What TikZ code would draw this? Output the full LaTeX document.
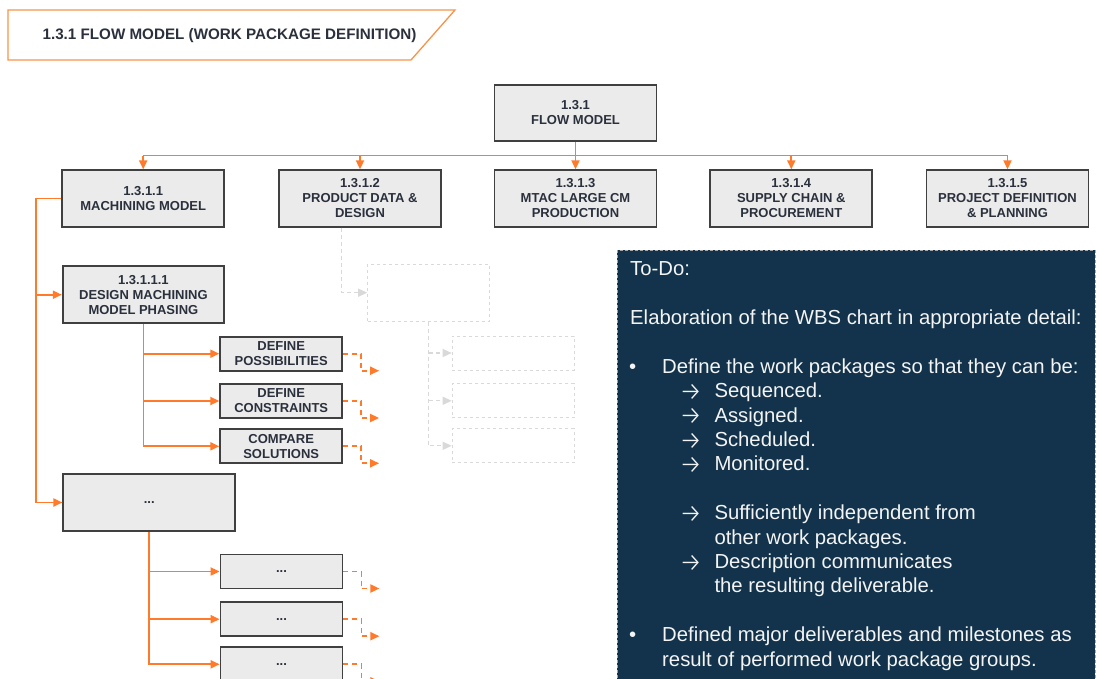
\documentclass[tikz,border=0pt]{standalone}
\usepackage{fontspec}
\setmainfont{Liberation Sans}
\newfontfamily\arrowfont{Fira Sans Light}
\usetikzlibrary{arrows.meta,calc}

\definecolor{wbsorange}{HTML}{FF7A2B}
\definecolor{titleorange}{HTML}{F8934A}
\definecolor{boxfill}{HTML}{EBEBEB}
\definecolor{boxline}{HTML}{404040}
\definecolor{boxtext}{HTML}{2A303C}
\definecolor{ghost}{HTML}{D9D9D9}
\definecolor{panelblue}{HTML}{12334B}
\definecolor{panelrim}{HTML}{A8A8A8}
\definecolor{paneltext}{HTML}{F4F4F4}

\tikzset{
  wbs/.style={draw=boxline, line width=1.8pt, fill=boxfill, text=boxtext,
    font=\bfseries\fontsize{13}{15}\selectfont, align=center, inner sep=0pt,
    minimum width=162pt, minimum height=56.5pt},
  task/.style={wbs, minimum width=122pt, minimum height=34pt},
  ghostbox/.style={draw=ghost, dashed, line width=1pt, inner sep=0pt,
    minimum width=122pt, minimum height=34pt},
  link/.style={draw=wbsorange, line width=1.8pt},
  tip/.style={-{Triangle[length=9pt,width=8pt]}},
  link tip/.style={link, tip},
  stub/.style={link, dash pattern=on 5pt off 4pt, tip},
  ghostlink/.style={draw=ghost, line width=1.2pt, dash pattern=on 4pt off 3pt,
    -{Triangle[length=9pt,width=8pt]}},
  ptxt/.style={text=paneltext, font=\fontsize{20.3}{24.4}\selectfont,
    anchor=base west, inner sep=0pt},
  parrow/.style={ptxt, font=\arrowfont\fontsize{26}{24.4}\selectfont, yshift=-2.5pt},
}

\begin{document}
\begin{tikzpicture}[x=1pt, y=-1pt]
\useasboundingbox (0,0) rectangle (1096,678);
\clip (0,0) rectangle (1096,678);

% page heading
\draw[titleorange, line width=1.3pt] (8,10) -- (455,10) -- (411,60) -- (8,60) -- cycle;
\node[text=boxtext, font=\bfseries\fontsize{15.2}{18}\selectfont, inner sep=0pt]
  (heading) at (229.5,35.5) {1.3.1 FLOW MODEL (WORK PACKAGE DEFINITION)};

% top of the breakdown
\node[wbs] (root) at (575.5,113) {1.3.1\\FLOW MODEL};
\node[wbs] (n1) at (143.2,198.5) {1.3.1.1\\MACHINING MODEL};
\node[wbs] (n2) at (360,198.5) {1.3.1.2\\PRODUCT DATA \&\\DESIGN};
\node[wbs] (n3) at (575.5,198.5) {1.3.1.3\\MTAC LARGE CM\\PRODUCTION};
\node[wbs] (n4) at (791.3,198.5) {1.3.1.4\\SUPPLY CHAIN \&\\PROCUREMENT};
\node[wbs] (n5) at (1007.5,198.5) {1.3.1.5\\PROJECT DEFINITION\\\& PLANNING};

\coordinate (bus) at (0,155.5);
\draw[link] (n1.north |- bus) -- (n5.north |- bus);
\draw[link tip] (root.south) -- (n3.north);
\foreach \n in {n1,n2,n4,n5} \draw[link tip] (\n.north |- bus) -- (\n.north);

% machining model branch
\node[wbs, minimum width=161.3pt, minimum height=57.3pt] (n11) at (143.4,294.7)
  {1.3.1.1.1\\DESIGN MACHINING\\MODEL PHASING};
\node[task] (c1) at (281.2,353.7) {DEFINE\\POSSIBILITIES};
\node[task] (c2) at (281.2,401) {DEFINE\\CONSTRAINTS};
\node[task] (c3) at (281.2,446.3) {COMPARE\\SOLUTIONS};

\node[wbs, minimum width=171.7pt, minimum height=57pt] (more) at (149.2,502.5) {...};
\node[task] (m1) at (281.5,571.5) {...};
\node[task] (m2) at (281.5,619.2) {...};
\node[task] (m3) at (281.5,664.3) {...};

\coordinate (spine) at (36,0);
\draw[link tip] (n1.west) -| (spine |- more.west) -- (more.west);
\draw[link tip] (spine |- n11.west) -- (n11.west);

\draw[link tip] (n11.south) |- (c3.west);
\draw[link tip] (n11.south |- c1.west) -- (c1.west);
\draw[link tip] (n11.south |- c2.west) -- (c2.west);

\draw[link tip] (more.south) |- (m3.west);
\draw[link tip] (more.south |- m1.west) -- (m1.west);
\draw[link tip] (more.south |- m2.west) -- (m2.west);

\foreach \c in {c1,c2,c3,m1,m2,m3}
  \draw[stub] (\c.east) -- ++(18,0) -- ++(0,17) -- ++(18,0);

% placeholder branch under product data
\node[ghostbox, minimum width=121.6pt, minimum height=56.7pt] (g0) at (428.5,292.7) {};
\node[ghostbox] (g1) at (513.2,353) {};
\node[ghostbox] (g2) at (513.2,400.8) {};
\node[ghostbox] (g3) at (513.2,445.8) {};
\coordinate (gstart) at ($(n2.south)+(-18.3,0)$);
\draw[ghostlink] (gstart) |- (g0.west);
\draw[ghostlink] (g0.south) |- (g3.west);
\draw[ghostlink] (g0.south |- g1.west) -- (g1.west);
\draw[ghostlink] (g0.south |- g2.west) -- (g2.west);

% to-do panel
\draw[panelrim, fill=panelblue, line width=0.6pt, dash pattern=on 3pt off 2pt]
  (617.3,250) rectangle (1095,700);
\node[ptxt] (todo) at (630,275.7) {To-Do:};
\node[ptxt] (elab) at (630,324.5) {Elaboration of the WBS chart in appropriate detail:};
\node[ptxt] (dot1) at (629,373.3) {•};
\node[ptxt] (def) at (662,373.3) {Define the work packages so that they can be:};
\node[parrow] (ar1) at (679,397.7) {→};
\node[ptxt] (seq) at (714.3,397.7) {Sequenced.};
\node[parrow] (ar2) at (679,422.1) {→};
\node[ptxt] (asg) at (714.3,422.1) {Assigned.};
\node[parrow] (ar3) at (679,446.5) {→};
\node[ptxt] (sch) at (714.3,446.5) {Scheduled.};
\node[parrow] (ar4) at (679,470.9) {→};
\node[ptxt] (mon) at (714.3,470.9) {Monitored.};
\node[parrow] (ar5) at (679,519.7) {→};
\node[ptxt] (ind) at (714.3,519.7) {Sufficiently independent from};
\node[ptxt] (ind2) at (714.3,544.1) {other work packages.};
\node[parrow] (ar6) at (679,568.5) {→};
\node[ptxt] (dsc) at (714.3,568.5) {Description communicates};
\node[ptxt] (dsc2) at (714.3,592.9) {the resulting deliverable.};
\node[ptxt] (dot2) at (629,641.7) {•};
\node[ptxt] (mil) at (662,641.7) {Defined major deliverables and milestones as};
\node[ptxt] (mil2) at (662,666.1) {result of performed work package groups.};
\end{tikzpicture}
\end{document}
